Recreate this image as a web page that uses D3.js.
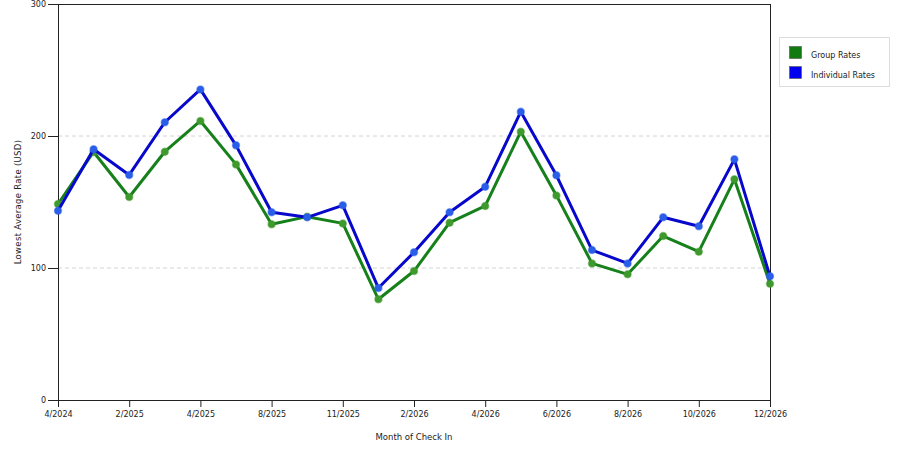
<!DOCTYPE html>
<html><head><meta charset="utf-8">
<script src="https://cdn.jsdelivr.net/npm/d3@7"></script>
<style>body{margin:0;background:#fff}svg{display:block;font-family:"DejaVu Sans",Verdana,sans-serif}</style>
</head><body><svg id="c" width="900" height="450"></svg>
<script>
const months = ["4/2024","12/2024","2/2025","3/2025","4/2025","6/2025","8/2025","10/2025","11/2025","1/2026","2/2026","3/2026","4/2026","5/2026","6/2026","7/2026","8/2026","9/2026","10/2026","11/2026","12/2026"];
const tickLabels = ["4/2024","2/2025","4/2025","8/2025","11/2025","2/2026","4/2026","6/2026","8/2026","10/2026","12/2026"];
const groupRates = [148.5,187.9,153.8,188.1,211.4,178.5,133.1,138.9,133.8,76.3,97.7,134.3,147,203.3,155,103.5,95.2,124.2,112.4,167.2,88.1];
const individualRates = [143.4,189.9,170.5,210.4,235.3,192.9,142.2,138.4,147.5,84.8,111.9,142.2,161.6,218.4,170.2,113.6,103.5,138.4,131.6,182.3,93.7];
const yTicks = [0,100,200,300];
const seriesNames = ["Group Rates","Individual Rates"];
const lineColors = ["#16801a","#0808cc"];
const markerColors = ["#3f9a2e","#2a5ee8"];
const swatchColors = ["#117a11","#0000ee"];

const svg = d3.select("#c");
const L=58,R=770,T=4,B=400;
const x = d3.scalePoint().domain(months).range([L,R]);
const y = d3.scaleLinear().domain([0,300]).range([B,T]);

svg.append("g").selectAll("line").data([100,200]).join("line")
  .attr("x1",L).attr("x2",R).attr("y1",d=>y(d)).attr("y2",d=>y(d))
  .attr("stroke","#d4d4d4").attr("stroke-dasharray","4,3");
svg.append("line").attr("x1",L).attr("x2",R).attr("y1",T+0.5).attr("y2",T+0.5).attr("stroke","#222");
svg.append("line").attr("x1",R+0.5).attr("x2",R+0.5).attr("y1",T).attr("y2",B).attr("stroke","#222");

const xa = svg.append("g").attr("transform",`translate(0,${B})`)
  .call(d3.axisBottom(x).tickValues(tickLabels).tickSize(7).tickSizeOuter(0).tickPadding(3));
const ya = svg.append("g").attr("transform",`translate(${L},0)`)
  .call(d3.axisLeft(y).tickValues(yTicks).tickSize(10).tickSizeOuter(0).tickPadding(2));
[xa,ya].forEach(a=>{a.select(".domain").attr("stroke","#222");a.selectAll(".tick line").attr("stroke","#222");
  a.selectAll("text").attr("fill","#222").style("font-size","8px").style("font-family","DejaVu Sans, Verdana, sans-serif");});
xa.selectAll("text").attr("dy","0.9em");

svg.append("text").attr("x",414).attr("y",440).attr("text-anchor","middle").attr("font-size","8.5px").attr("fill","#222").text("Month of Check In");
svg.append("text").attr("transform","translate(21,202) rotate(-90)").attr("text-anchor","middle").attr("font-size","8.5px").attr("letter-spacing","0.3px").attr("fill","#222").text("Lowest Average Rate (USD)");

const data=[groupRates,individualRates];
const line=d3.line().x((d,i)=>x(months[i])).y(d=>y(d));
data.forEach((s,k)=>{
  svg.append("path").datum(s).attr("d",line).attr("fill","none").attr("stroke",lineColors[k]).attr("stroke-width",3).attr("stroke-linejoin","round");
  svg.append("g").selectAll("circle").data(s).join("circle").attr("cx",(d,i)=>x(months[i])).attr("cy",d=>y(d)).attr("r",3.5)
    .attr("fill",markerColors[k]).attr("stroke",markerColors[k]).attr("stroke-opacity",0.5).attr("stroke-width",1.5);
});

const lg=svg.append("g");
lg.append("rect").attr("x",779.5).attr("y",37.5).attr("width",110).attr("height",49).attr("fill","#fff").attr("stroke","#ddd");
seriesNames.forEach((n,i)=>{
  lg.append("rect").attr("x",789.5).attr("y",46.5+i*20).attr("width",12).attr("height",12).attr("fill",swatchColors[i]).attr("stroke","#555").attr("stroke-width",0.6);
  lg.append("text").attr("x",811).attr("y",58+i*20).attr("font-size","8px").attr("fill","#222").text(n);
});
</script></body></html>
